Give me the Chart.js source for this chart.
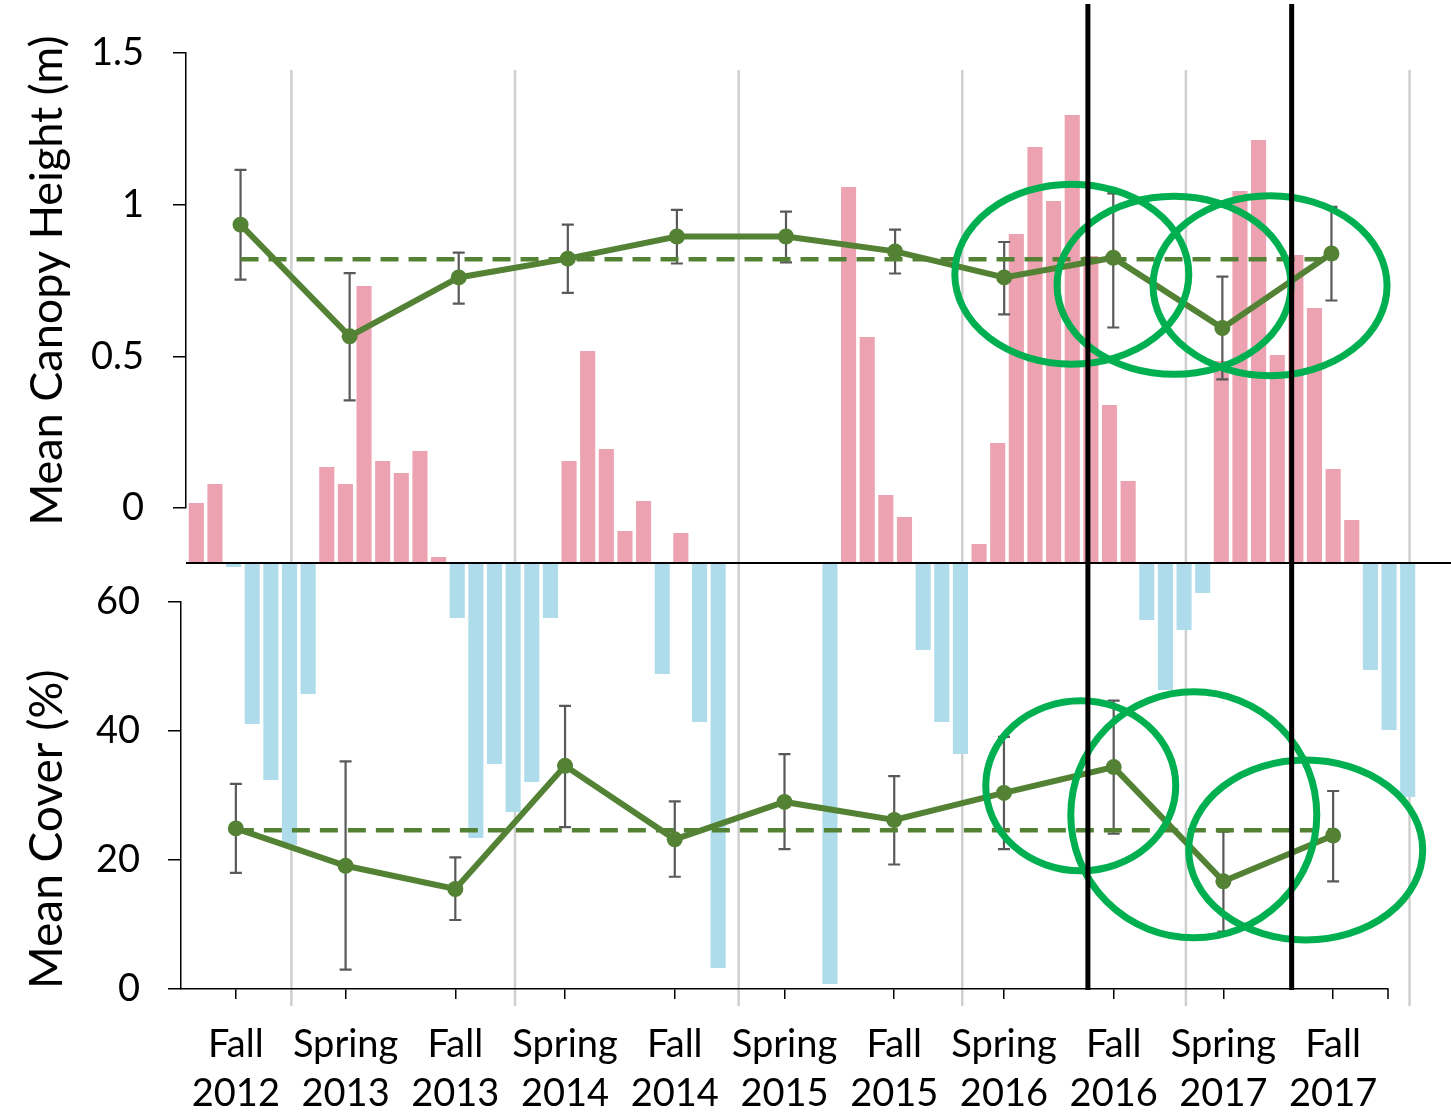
<!DOCTYPE html>
<html>
<head>
<meta charset="utf-8">
<script src="https://cdn.jsdelivr.net/npm/chart.js@4.4.1/dist/chart.umd.min.js"></script>
<style>
  html, body { margin: 0; padding: 0; background: #fff; }
  #wrap { position: relative; width: 1451px; height: 1115px; }
  #wrap canvas { position: absolute; left: 0; top: 0; }
</style>
</head>
<body>
<div id="wrap">
  <canvas id="barsCanvas" width="1451" height="1115"></canvas>
  <canvas id="heightCanvas" width="1451" height="1115"></canvas>
  <canvas id="coverCanvas" width="1451" height="1115"></canvas>
</div>
<script>
// ===============================
// DATA
// ===============================
const seasons = [
  ["Fall", "2012"], ["Spring", "2013"], ["Fall", "2013"], ["Spring", "2014"],
  ["Fall", "2014"], ["Spring", "2015"], ["Fall", "2015"], ["Spring", "2016"],
  ["Fall", "2016"], ["Spring", "2017"], ["Fall", "2017"]
];

// canopy height (m), mean and error bar ends
const canopyHeight = [0.934, 0.566, 0.760, 0.822, 0.895, 0.895, 0.846, 0.760, 0.825, 0.593, 0.839];
const canopyLow    = [0.753, 0.355, 0.674, 0.709, 0.806, 0.810, 0.773, 0.638, 0.595, 0.424, 0.684];
const canopyHigh   = [1.115, 0.774, 0.842, 0.934, 0.983, 0.977, 0.918, 0.877, 1.037, 0.763, 0.993];
const canopyMean = 0.82;
const heightTicks = [0, 0.5, 1, 1.5];

// cover (%)
const coverPct  = [24.9, 19.1, 15.5, 34.6, 23.2, 29.0, 26.2, 30.4, 34.4, 16.7, 23.8];
const coverLow  = [18.0, 3.0, 10.7, 25.1, 17.4, 21.7, 19.3, 21.7, 24.1, 8.9, 16.7];
const coverHigh = [31.8, 35.3, 20.4, 43.9, 29.1, 36.4, 33.0, 39.1, 44.7, 24.4, 30.7];
const coverMean = 24.6;
const coverTicks = [0, 20, 40, 60];

// monthly anomaly behind the panels, Aug 2012 .. Jan 2018 (pink above, blue below)
const monthlyAnomaly = [
  60, 79, -4, -161, -217, -282, -131, 96, 79, 277, 102, 90,
  112, 6, -55, -275, -201, -249, -219, -55, 102, 212, 114, 32,
  62, -111, 30, -159, -405, 0, 0, 0, 0, 0, -421, 376,
  226, 68, 46, -87, -159, -191, 19, 120, 329, 416, 362, 448,
  307, 158, 82, -57, -127, -67, -30, 202, 372, 423, 208, 308,
  255, 94, 43, -107, -167, -234
];
const monthNames = ["Jan","Feb","Mar","Apr","May","Jun","Jul","Aug","Sep","Oct","Nov","Dec"];
const months = monthlyAnomaly.map((_, i) => {
  const m = 7 + i;
  return monthNames[m % 12] + " " + (2012 + Math.floor(m / 12));
});
const yearLineMonths = [5.1, 17.1, 29.1, 41.1, 53.1, 65.1];
const anomalyRange = [-447, 503];
const yearLineRange = [-443, 493];

// annotations: treatment lines and rings (centres on the season axis)
const treatmentMarks = [7.765, 9.622];
const heightRings = [
  { x: 7.62, y: 0.771, rx: 117, ry: 90 },
  { x: 8.557, y: 0.734, rx: 117, ry: 89 },
  { x: 9.437, y: 0.733, rx: 117, ry: 90 }
];
const coverRings = [
  { x: 7.70, y: 31.5, rx: 95, ry: 85 },
  { x: 8.73, y: 27.0, rx: 123, ry: 123 },
  { x: 9.75, y: 21.55, rx: 117, ry: 90 }
];

// ===============================
// STYLE
// ===============================
const GREEN = "#548235";
const RING = "#00B050";
const PINK = "#ECA2B0";
const BLUE = "#AEDCEB";
const FONT = "Lato, 'Open Sans', sans-serif";

// ===============================
// PLUGINS
// ===============================
function errorBars(low, high) {
  return {
    id: "errorBars",
    beforeDatasetsDraw(chart) {
      const { ctx, scales: { x, y } } = chart;
      ctx.save();
      ctx.strokeStyle = "#595959";
      ctx.lineWidth = 2.2;
      low.forEach((lo, i) => {
        const px = x.getPixelForValue(i);
        const y1 = y.getPixelForValue(lo);
        const y2 = y.getPixelForValue(high[i]);
        ctx.beginPath();
        ctx.moveTo(px, y1); ctx.lineTo(px, y2);
        ctx.moveTo(px - 6, y1); ctx.lineTo(px + 6, y1);
        ctx.moveTo(px - 6, y2); ctx.lineTo(px + 6, y2);
        ctx.stroke();
      });
      ctx.restore();
    }
  };
}

function rings(list) {
  return {
    id: "rings",
    afterDatasetsDraw(chart) {
      const { ctx, scales: { x, y } } = chart;
      ctx.save();
      ctx.strokeStyle = RING;
      ctx.lineWidth = 7;
      list.forEach(r => {
        ctx.beginPath();
        ctx.ellipse(x.getPixelForValue(r.x), y.getPixelForValue(r.y), r.rx, r.ry, 0, 0, Math.PI * 2);
        ctx.stroke();
      });
      ctx.restore();
    }
  };
}

const yearLines = {
  id: "yearLines",
  beforeDatasetsDraw(chart) {
    const { ctx, scales: { x, y } } = chart;
    ctx.save();
    ctx.strokeStyle = "#CFCFCF";
    ctx.lineWidth = 2.5;
    yearLineMonths.forEach(m => {
      const px = x.getPixelForValue(m);
      ctx.beginPath();
      ctx.moveTo(px, y.getPixelForValue(yearLineRange[1]));
      ctx.lineTo(px, y.getPixelForValue(yearLineRange[0]));
      ctx.stroke();
    });
    ctx.restore();
  },
  afterDatasetsDraw(chart) {
    const { ctx, chartArea, scales: { y } } = chart;
    const py = y.getPixelForValue(0);
    ctx.save();
    ctx.strokeStyle = "#000";
    ctx.lineWidth = 2;
    ctx.beginPath();
    ctx.moveTo(chartArea.left - 1, py);
    ctx.lineTo(chart.width, py);
    ctx.stroke();
    ctx.restore();
  }
};

const treatmentLines = {
  id: "treatmentLines",
  afterDraw(chart) {
    const { ctx, chartArea, scales: { x } } = chart;
    ctx.save();
    ctx.strokeStyle = "#000";
    // closing tick at the right end of the x axis
    ctx.lineWidth = 1.5;
    ctx.beginPath();
    ctx.moveTo(chartArea.right, chartArea.bottom);
    ctx.lineTo(chartArea.right, chartArea.bottom + 10);
    ctx.stroke();
    ctx.lineWidth = 5;
    treatmentMarks.forEach(v => {
      const px = x.getPixelForValue(v);
      ctx.beginPath();
      ctx.moveTo(px, 4);
      ctx.lineTo(px, chartArea.bottom + 1);
      ctx.stroke();
    });
    ctx.restore();
  }
};

const baseOptions = {
  responsive: false,
  animation: false,
  events: [],
  plugins: { legend: { display: false }, tooltip: { enabled: false } }
};

// ===============================
// BACKGROUND BARS
// ===============================
new Chart(document.getElementById("barsCanvas"), {
  type: "bar",
  data: {
    labels: months,
    datasets: [{
      data: monthlyAnomaly,
      backgroundColor: c => (c.raw >= 0 ? PINK : BLUE),
      categoryPercentage: 1,
      barPercentage: 0.81
    }]
  },
  options: {
    ...baseOptions,
    layout: { padding: { left: 187, right: 34, top: 60, bottom: 105 } },
    scales: {
      x: { display: false },
      y: { display: false, min: anomalyRange[0], max: anomalyRange[1] }
    }
  },
  plugins: [yearLines]
});

// ===============================
// TOP PANEL: CANOPY HEIGHT
// ===============================
new Chart(document.getElementById("heightCanvas"), {
  type: "line",
  data: {
    labels: seasons,
    datasets: [
      { data: canopyHeight, borderColor: GREEN, backgroundColor: GREEN, borderWidth: 6,
        pointRadius: 8, pointBorderWidth: 0 },
      { data: seasons.map(() => canopyMean), borderColor: GREEN, borderWidth: 4.5,
        borderDash: [18, 10], pointRadius: 0 }
    ]
  },
  options: {
    ...baseOptions,
    layout: { padding: { left: 0, right: 65, top: 53, bottom: 607 } },
    scales: {
      x: { display: false, offset: true },
      y: {
        min: 0, max: 1.5,
        afterBuildTicks: s => { s.ticks = heightTicks.map(v => ({ value: v })); },
        afterFit: s => { s.width = 186; },
        ticks: { color: "#000", padding: 29, font: { family: FONT, size: 38 }, callback: v => String(v) },
        grid: { drawOnChartArea: false, tickLength: 13, color: "#000", lineWidth: 1.5 },
        border: { color: "#000", width: 1.5 },
        title: { display: true, text: "Mean Canopy Height (m)", color: "#000",
          font: { family: FONT, size: 45, lineHeight: 1.2 }, padding: { top: 20, bottom: 0 } }
      }
    }
  },
  plugins: [errorBars(canopyLow, canopyHigh), rings(heightRings)]
});

// ===============================
// BOTTOM PANEL: COVER
// ===============================
new Chart(document.getElementById("coverCanvas"), {
  type: "line",
  data: {
    labels: seasons,
    datasets: [
      { data: coverPct, borderColor: GREEN, backgroundColor: GREEN, borderWidth: 6,
        pointRadius: 8, pointBorderWidth: 0 },
      { data: seasons.map(() => coverMean), borderColor: GREEN, borderWidth: 4.5,
        borderDash: [18, 10], pointRadius: 0 }
    ]
  },
  options: {
    ...baseOptions,
    layout: { padding: { left: 0, right: 63, top: 602, bottom: 0 } },
    scales: {
      x: {
        offset: true,
        afterFit: s => { s.height = 126; },
        ticks: { color: "#000", padding: 21, maxRotation: 0, autoSkip: false,
          font: { family: FONT, size: 38, lineHeight: 1.3 } },
        grid: { drawOnChartArea: false, tickLength: 10, color: "#000", lineWidth: 1.5 },
        border: { color: "#000", width: 1.5 }
      },
      y: {
        min: 0, max: 60,
        afterBuildTicks: s => { s.ticks = coverTicks.map(v => ({ value: v })); },
        afterFit: s => { s.width = 181; },
        ticks: { color: "#000", padding: 28, font: { family: FONT, size: 38 }, callback: v => String(v) },
        grid: { drawOnChartArea: false, tickLength: 13, color: "#000", lineWidth: 1.5 },
        border: { color: "#000", width: 1.5 },
        title: { display: true, text: "Mean Cover (%)", color: "#000", align: "start",
          font: { family: FONT, size: 46, lineHeight: 1.2 }, padding: { top: 20, bottom: 0 } }
      }
    }
  },
  plugins: [errorBars(coverLow, coverHigh), rings(coverRings), treatmentLines]
});
</script>
</body>
</html>
